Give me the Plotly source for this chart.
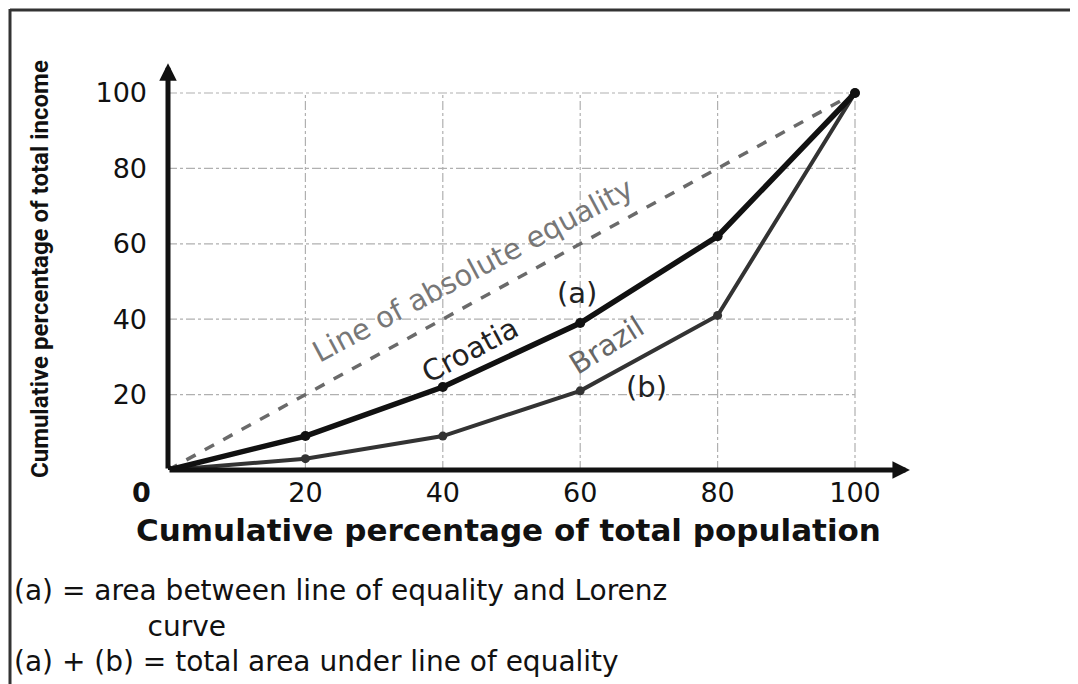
import plotly.graph_objects as go

# ---- data ----
population_pct = [0, 20, 40, 60, 80, 100]
equality = [0, 20, 40, 60, 80, 100]
croatia = [0, 9, 22, 39, 62, 100]
brazil = [0, 3, 9, 21, 41, 100]
grid_vals = [20, 40, 60, 80, 100]
x_tick_labels = ["20", "40", "60", "80", "100"]
y_tick_labels = ["20", "40", "60", "80", "100"]

# page offset of the default HTML body margin
OFF = 8
SW, SH = 1078, 684                 # screen size
PL, PT, PR, PB = 168, 62, 912, 470  # plot area on screen
PW, PH = PR - PL, PB - PT
W, H = SW - OFF, SH - OFF
XMAX = PW / 6.87
YMAX = PH / 3.77


def px(x):
    return (x - PL) / PW


def py(y):
    return (PB - y) / PH


fig = go.Figure()

# equality line
fig.add_trace(go.Scatter(x=population_pct, y=equality, mode="lines",
                         line=dict(color="#6a6a6a", width=3.5, dash="dash"),
                         hoverinfo="skip"))
# Brazil
fig.add_trace(go.Scatter(x=population_pct, y=brazil, mode="lines+markers",
                         line=dict(color="#333333", width=4),
                         marker=dict(color="#333333", size=9),
                         hoverinfo="skip"))
# Croatia
fig.add_trace(go.Scatter(x=population_pct, y=croatia, mode="lines+markers",
                         line=dict(color="#111111", width=5.5),
                         marker=dict(color="#111111", size=10),
                         hoverinfo="skip"))

shapes = []
# grid lines
for v in grid_vals:
    shapes.append(dict(type="line", xref="x", yref="y", x0=v, x1=v, y0=0, y1=100,
                       line=dict(color="#b0b0b0", width=1.2, dash="dashdot"), layer="below"))
    shapes.append(dict(type="line", xref="x", yref="y", x0=0, x1=100, y0=v, y1=v,
                       line=dict(color="#b0b0b0", width=1.2, dash="dashdot"), layer="below"))
# frame borders (left and top)
shapes.append(dict(type="line", xref="paper", yref="paper", x0=px(10), x1=px(10),
                   y0=py(9), y1=py(SH + 5), line=dict(color="#333333", width=3)))
shapes.append(dict(type="line", xref="paper", yref="paper", x0=px(10), x1=px(SW + 5),
                   y0=py(10), y1=py(10), line=dict(color="#333333", width=3)))

annotations = []
# axis arrows
annotations.append(dict(x=XMAX - 0.3, y=0, ax=0, ay=0, xref="x", yref="y", axref="x", ayref="y",
                        text="", showarrow=True, arrowhead=2, arrowsize=0.7, arrowwidth=5,
                        arrowcolor="#111111"))
annotations.append(dict(x=0, y=YMAX - 0.3, ax=0, ay=0, xref="x", yref="y", axref="x", ayref="y",
                        text="", showarrow=True, arrowhead=2, arrowsize=0.7, arrowwidth=5,
                        arrowcolor="#111111"))

tick_font = dict(family="DejaVu Sans", size=27, color="#111111")
# origin label
annotations.append(dict(x=px(141), y=py(492), xref="paper", yref="paper", text="<b>0</b>",
                        xanchor="center", yanchor="middle", showarrow=False, font=tick_font))

# in-plot labels
label_size = 29
annotations += [
    dict(x=44.4, y=53, text="Line of absolute equality", textangle=-28, showarrow=False,
         font=dict(family="DejaVu Sans", size=label_size, color="#777777")),
    dict(x=44, y=31.8, text="Croatia", textangle=-28, showarrow=False,
         font=dict(family="DejaVu Sans", size=label_size, color="#222222")),
    dict(x=59.5, y=47, text="(a)", showarrow=False,
         font=dict(family="DejaVu Sans", size=label_size, color="#222222")),
    dict(x=63.9, y=33.2, text="Brazil", textangle=-32, showarrow=False,
         font=dict(family="DejaVu Sans", size=label_size, color="#666666")),
    dict(x=69.7, y=22, text="(b)", showarrow=False,
         font=dict(family="DejaVu Sans", size=label_size, color="#222222")),
]

# axis titles
annotations.append(dict(x=px(508), y=py(530), xref="paper", yref="paper",
                        xanchor="center", yanchor="middle",
                        text="<b>Cumulative percentage of total population</b>", showarrow=False,
                        font=dict(family="DejaVu Sans", size=31, color="#111111")))
annotations.append(dict(x=px(40), y=py(269), xref="paper", yref="paper", textangle=-90,
                        xanchor="center", yanchor="middle",
                        text="<b>Cumulative percentage of total income</b>", showarrow=False,
                        font=dict(family="Roboto, Liberation Sans, sans-serif",
                                  size=24, color="#111111")))

# notes
note_font = dict(family="DejaVu Sans", size=28, color="#111111")
indent = "&nbsp;" * 15
annotations.append(dict(x=px(12), y=py(572), xref="paper", yref="paper",
                        xanchor="left", yanchor="top", align="left",
                        text="(a) = area between line of equality and Lorenz<br>" + indent + "curve",
                        showarrow=False, font=note_font))
annotations.append(dict(x=px(12), y=py(661), xref="paper", yref="paper",
                        xanchor="left", yanchor="middle",
                        text="(a) + (b) = total area under line of equality", showarrow=False,
                        font=note_font))

fig.update_layout(
    width=W, height=H,
    margin=dict(l=PL - OFF, r=W - (PR - OFF), t=PT - OFF, b=H - (PB - OFF)),
    plot_bgcolor="white", paper_bgcolor="white",
    showlegend=False,
    shapes=shapes,
    annotations=annotations,
    xaxis=dict(range=[0, XMAX], showgrid=False, zeroline=False, showline=False,
               tickvals=grid_vals, ticktext=x_tick_labels, ticks="", tickfont=tick_font,
               ticklabelstandoff=4),
    yaxis=dict(range=[0, YMAX], showgrid=False, zeroline=False, showline=False,
               tickvals=grid_vals, ticktext=y_tick_labels, ticks="", tickfont=tick_font,
               ticklabelstandoff=20),
)

fig.write_html("out.html")
